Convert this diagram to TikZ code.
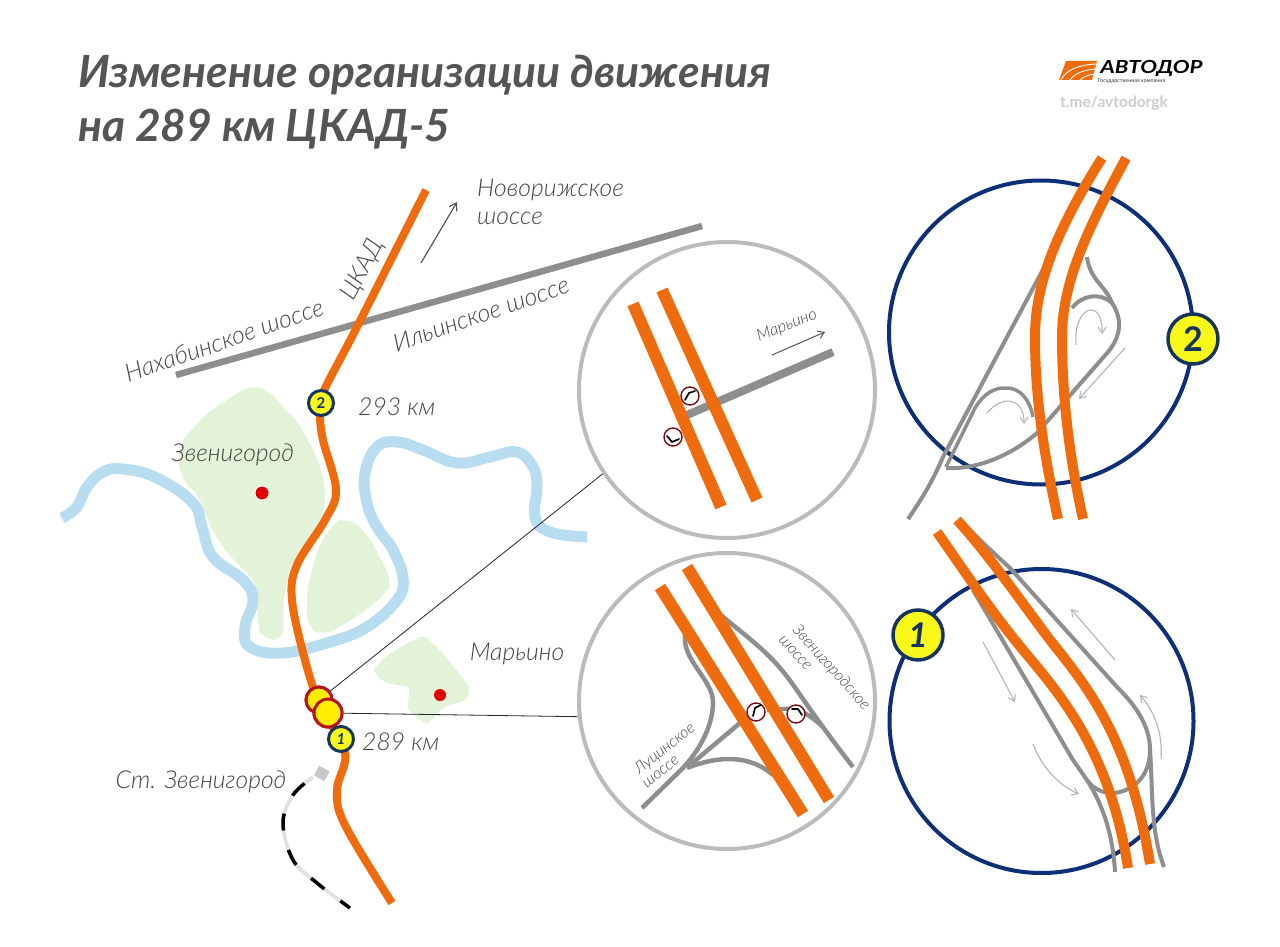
\documentclass[tikz,border=0pt]{standalone}
\usepackage{fontspec}
\setmainfont{Lato}
\newfontfamily\lightf{Lato Light}
\usetikzlibrary{arrows.meta}
\definecolor{orng}{HTML}{EE6C0E}
\definecolor{rd}{HTML}{8E8E8E}
\definecolor{lite}{HTML}{B4B4B4}
\definecolor{navy}{HTML}{0C2F78}
\definecolor{yel}{HTML}{F8F81A}
\definecolor{grn}{HTML}{E2F3D8}
\definecolor{riv}{HTML}{B9DDF0}
\definecolor{txt}{HTML}{555555}
\definecolor{lbltxt}{HTML}{444444}
\definecolor{redc}{HTML}{B5141E}
\definecolor{numc}{HTML}{17345E}
\tikzset{
  mainroad/.style={draw=orng,line width=#1,line join=round},
  mainroad/.default=12pt,
  sideroad/.style={draw=rd,line width=#1,line join=round},
  sideroad/.default=4.5pt,
  hint/.style={draw=lite,line width=1.1pt,-{Straight Barb[length=6pt,width=8pt]}},
  lbl/.style={font=\lightf\itshape\fontsize{#1}{#1}\selectfont,text=lbltxt,inner sep=0pt,align=left},
  lbl/.default=24.7,
  magnifier/.style={circle,draw=lite!90!white,line width=4pt,fill=white,minimum size=296pt,inner sep=0pt},
  detail/.style={circle,draw=navy,line width=4pt,minimum size=304pt,inner sep=0pt},
  badgebig/.style={circle,draw=numc,line width=3.5pt,fill=yel,minimum size=50pt,inner sep=0pt,text=numc,font=\bfseries\fontsize{34}{34}\selectfont},
  badgesmall/.style={circle,draw=numc,line width=3pt,fill=yel,minimum size=25pt,inner sep=0pt,text=numc,font=\bfseries\fontsize{15}{15}\selectfont},
  spot/.style={circle,draw=redc,line width=3pt,fill=yellow!95!orange,minimum size=26pt,inner sep=0pt},
  town/.style={circle,fill=red!90!black,minimum size=#1,inner sep=0pt},
  nosign/.style={circle,draw=redc!65!black,line width=1.4pt,fill=white,minimum size=18pt,inner sep=0pt},
  glyph/.style={draw=black,line width=1.7pt,line cap=round,line join=round},
  leader/.style={draw=black!85,line width=.8pt},
  area/.style={fill=grn,rounded corners=12pt}
}
\newcommand{\sign}[6]{%
  \node[nosign] (#1) at (#2,#3) {};
  \draw[glyph,shift={(#2,#3)}] #4 -- #5 -- #6;
}
\begin{document}
\begin{tikzpicture}[x=1pt,y=-1pt]
\useasboundingbox (0,0) rectangle (1280,947);
\fill[white] (0,0) rectangle (1280,947);

% title
\node[anchor=base west,inner sep=0pt,text=txt,font=\itshape\bfseries\fontsize{44.4}{44.4}\selectfont] (title1) at (78,88) {Изменение организации движения};
\node[anchor=base west,inner sep=0pt,text=txt,font=\itshape\bfseries\fontsize{44.4}{44.4}\selectfont] (title2) at (78,142) {на 289 км ЦКАД-5};

% logo
\fill[orng] (1066,61) -- (1097,61) -- (1092,80) -- (1059,80) -- cycle;
\draw[white,line width=.9pt] (1061,80) .. controls (1066,70) and (1078,65) .. (1096,64);
\draw[white,line width=.9pt] (1070,80) .. controls (1074,74) and (1083,70) .. (1095,69);
\draw[white,line width=.9pt] (1080,80) .. controls (1083,77) and (1088,75) .. (1094,74);
\node[anchor=base west,inner sep=0pt,font=\itshape\bfseries\fontsize{18}{18}\selectfont,text=black,xscale=1.24] (logo) at (1100,74) {АВТОДОР};
\node[anchor=base west,inner sep=0pt,font=\fontsize{5.4}{5.4}\selectfont,text=black!80] (logosub) at (1098,83) {Государственная компания};
\node[anchor=base west,inner sep=0pt,font=\bfseries\fontsize{15.5}{15.5}\selectfont,text=black!20] (tme) at (1060,108) {t.me/avtodorgk};

% green areas
\fill[area] (178,445) -- (207,413) -- (250,385) -- (270,390) -- (280,405) -- (297,420) -- (317,457) -- (326,487) -- (323,517) -- (290,567) -- (283,603) -- (284,640) -- (263,640) -- (258,627) -- (257,583) -- (227,553) -- (210,527) -- (200,497) -- (180,477) -- cycle;
\fill[area] (347,517) -- (367,533) -- (392,580) -- (387,593) -- (357,617) -- (323,636) -- (307,627) -- (307,590) -- (317,550) -- (333,523) -- cycle;
\fill[area,rounded corners=5pt] (423,635) -- (440,650) -- (470,687) -- (467,700) -- (443,707) -- (427,725) -- (407,710) -- (410,687) -- (385,683) -- (372,670) -- (390,653) -- cycle;

% river
\draw[riv,line width=11pt] plot[smooth,tension=.7] coordinates {(62,518) (77,507) (87,487) (103,472) (123,469) (157,478) (193,503) (202,527) (213,557) (243,580) (253,600) (245,627) (250,647) (283,653) (330,642) (367,627) (397,600) (403,578) (393,550) (377,527) (367,503) (365,473) (377,447) (397,442) (423,450) (457,463) (490,457) (517,452) (533,467) (537,487) (535,517) (550,532) (587,537)};

% road and railway
\draw[sideroad=6.5pt] (176,375) -- (702,226);
\draw[line width=3.5pt,draw=black!12] plot[smooth,tension=.6] coordinates {(313,777) (293,795) (283,823) (293,860) (317,883) (350,908)};
\draw[line width=3.5pt,draw=black,dash pattern=on 17pt off 20pt,dash phase=26.3pt] plot[smooth,tension=.6] coordinates {(313,777) (293,795) (283,823) (293,860) (317,883) (350,908)};
\fill[black!22,rotate around={-30:(322,773)}] (316,768) rectangle (328,779);

% main road
\coordinate (ckadtop) at (426,190);
\coordinate (ckadbot) at (392,903);
\draw[mainroad=8pt] plot[smooth,tension=.6] coordinates {(ckadtop) (358,325) (322,395) (320,415) (323,440) (336,490) (325,520) (297,565) (292,600) (305,660) (320,705) (345,752) (337,790) (345,825) (ckadbot)};

% magnifiers first
\node[magnifier] (maga) at (727,390) {};
\node[magnifier] (magb) at (727,701) {};

% map nodes
\node[town=15pt,fill=white] (dotzw0) at (262,493) {};
\node[town=13pt] (dotzw) at (262,493) {};
\node[town=12pt] (dotma) at (440,695) {};
\node[spot] (y1) at (319,700) {};
\node[spot,minimum size=28pt] (y2) at (328,713) {};
\draw[leader] (y1) -- (maga.214);
\draw[leader] (y2) -- (magb.186);
\node[spot] at (y1) {};
\node[spot,minimum size=28pt] at (y2) {};
\node[badgesmall] (b2) at (321,403) {2};
\node[badgesmall] (b1) at (341,739) {\itshape 1};

% arrow near Novorizhskoe
\coordinate (nra) at (421,263);
\coordinate (nrb) at (457,202);
\draw[draw=txt,line width=1.2pt,-{Straight Barb[length=7pt,width=9pt]}] (nra) -- (nrb);

% map labels
\node[lbl,anchor=west] (novo) at (477,202) {Новорижское\\[3pt]шоссе};
\node[lbl,rotate=19] (nakh) at (224,340) {Нахабинское шоссе};
\node[lbl,rotate=19] (ilin) at (481,314) {Ильинское шоссе};
\node[lbl,rotate=62] (ckad) at (363,270) {ЦКАД};
\node[lbl,anchor=west] (km293) at (358,407) {293 км};
\node[lbl,anchor=west] (km289) at (362,742) {289 км};
\node[lbl] (zven) at (233,455) {Звенигород};
\node[lbl] (mar) at (517,654) {Марьино};
\node[lbl] (stz) at (201,782) {Ст. Звенигород};

% magnifier A content
\draw[sideroad=8pt] (687,415) -- (833,352);
\draw[mainroad] (633,304) -- (721,507);
\draw[mainroad] (662,290) -- (757,500);
\sign{sa1}{690}{396}{(-5,4)}{(-1,-3)}{(5,-5)}
\sign{sa2}{673}{437}{(-6,-1)}{(-1,5)}{(6,2)}
\coordinate (mara) at (772,355);
\coordinate (marb) at (825,332);
\draw[draw=txt,line width=1pt,-{Straight Barb[length=6pt,width=8pt]}] (mara) -- (marb);
\node[lbl=16.5,rotate=21] (marlab) at (787,326) {Марьино};

% magnifier B content
\draw[sideroad] (717,612) .. controls (745,635) and (765,650) .. (780,668) .. controls (795,685) and (805,705) .. (853,767);
\draw[sideroad] (767,710) -- (783,709) .. controls (800,708) and (810,715) .. (823,727);
\draw[sideroad] (685,635) .. controls (682,660) and (713,680) .. (713,702) .. controls (713,730) and (695,755) .. (683,768) -- (642,808);
\draw[sideroad] (740,723) -- (690,765);
\draw[sideroad] (687,768) .. controls (720,755) and (750,755) .. (773,775);
\draw[mainroad] (660,587) -- (803,814);
\draw[mainroad] (687,567) -- (829,800);
\sign{sb1}{756}{712}{(-3,4)}{(-1,-4)}{(5,-7)}
\sign{sb2}{796}{714}{(-4,-5)}{(2,-5)}{(6,1)}
\node[lbl=15.8,rotate=-48] (zv1) at (831,668) {Звенигородское};
\node[lbl=15.8,rotate=-48] (zv2) at (795,653) {шоссе};
\node[lbl=15.8,rotate=38] (lu1) at (665,749) {Луцинское};
\node[lbl=15.8,rotate=38] (lu2) at (661,772) {шоссе};

% detail circle 2
\node[detail] (d2) at (1041,332.5) {};
\draw[sideroad=4pt] (1055,247) -- (943,457) .. controls (935,475) and (928,490) .. (908,519);
\draw[sideroad=3.5pt] (946,467) -- (975,408) .. controls (985,392) and (995,388) .. (1005,388) .. controls (1020,387) and (1030,400) .. (1033,417);
\draw[sideroad=4pt] (946,468) .. controls (985,470) and (1020,448) .. (1037,433) -- (1108,352) .. controls (1122,335) and (1122,318) .. (1112,303) .. controls (1100,292) and (1082,295) .. (1072,308);
\draw[sideroad=4pt] (1087,257) .. controls (1090,280) and (1105,285) .. (1112,303);
\draw[hint] (1076,345) .. controls (1073,305) and (1103,297) .. (1102,334);
\draw[hint] (987,413) .. controls (1003,394) and (1024,398) .. (1024,424);
\draw[hint] (1125,348) -- (1079,399);
\draw[mainroad=10pt] (1102,158) .. controls (1060,225) and (1035,280) .. (1035,337) .. controls (1035,400) and (1045,460) .. (1058,519);
\draw[mainroad=10pt] (1126,158) .. controls (1090,225) and (1062,280) .. (1062,337) .. controls (1062,400) and (1070,460) .. (1083,519);
\node[badgebig] (bd2) at (1193,339) {2};

% detail circle 1
\node[detail] (d1) at (1041.5,721) {};
\draw[sideroad=4pt] (967,527) .. controls (985,545) .. (1010,568) -- (1117,687) .. controls (1135,705) and (1150,725) .. (1150,750) .. controls (1150,775) and (1135,790) .. (1115,793) .. controls (1103,794) and (1092,788) .. (1087,780);
\draw[sideroad=4pt] (973,590) -- (1073,760) -- (1087,780) .. controls (1103,805) and (1113,835) .. (1115,872);
\draw[sideroad=4pt] (1150,750) .. controls (1153,790) and (1150,830) .. (1164,867);
\draw[hint] (1115,660) -- (1071,609);
\draw[hint] (983,642) -- (1015,702);
\draw[hint] (1033,744) .. controls (1042,768) and (1060,786) .. (1079,794);
\draw[hint] (1161,759) .. controls (1163,735) and (1155,712) .. (1140,695);
\draw[mainroad=10pt] (937,532) .. controls (965,572) and (990,610) .. (1023,650) .. controls (1058,692) and (1110,750) .. (1128,868);
\draw[mainroad=10pt] (957,520) .. controls (985,550) and (1020,600) .. (1050,640) .. controls (1090,690) and (1130,740) .. (1150,864);
\node[badgebig] (bd1) at (918,635) {\itshape 1};
\end{tikzpicture}
\end{document}
